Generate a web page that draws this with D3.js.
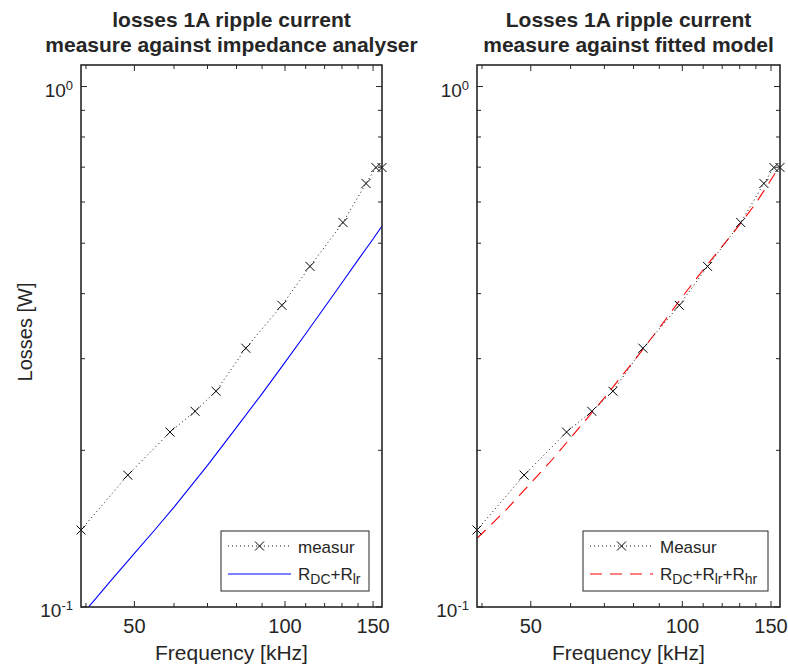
<!DOCTYPE html>
<html><head><meta charset="utf-8">
<script src="https://cdn.jsdelivr.net/npm/d3@7"></script>
<style>
body{margin:0;background:#fff}
svg{display:block}
text{font-family:"Liberation Sans",Arial,Helvetica,sans-serif;fill:#262626}
</style>
</head><body>
<svg id="c" width="788" height="668"></svg>
<script>
// ---- data ----
const freqMeas = [39.1, 48.5, 58.9, 66.1, 72.8, 83.5, 98.6, 112.2, 130.6, 145.2, 152.0, 156.3];
const lossMeas = [0.1406, 0.1792, 0.2168, 0.2377, 0.2598, 0.3142, 0.3799, 0.4513, 0.548, 0.6513, 0.699, 0.699];
const freqModel = [39.1, 42, 45, 50, 55, 60, 70, 80, 90, 100, 110, 120, 130, 140, 150, 156.3];
const lossAnalyser = [0.0962, 0.1042, 0.1127, 0.1268, 0.1409, 0.1556, 0.1871, 0.2213, 0.2570, 0.2951, 0.3350, 0.3767, 0.4198, 0.4645, 0.5093, 0.5395];
const lossFitted = [0.1355, 0.1449, 0.1549, 0.1730, 0.1914, 0.2113, 0.2523, 0.2965, 0.3436, 0.3945, 0.4446, 0.4930, 0.5430, 0.5970, 0.6620, 0.7050];
const xTickVals = [50, 100, 150];
const xMinorVals = [40, 60, 70, 80, 90, 110, 120, 130, 140];
const yTickVals = [0.1, 1];
const yTickExp = ["-1", "0"];
const yMinorVals = [0.2, 0.3, 0.4, 0.5, 0.6, 0.7, 0.8, 0.9];
const yLimits = [0.1, 1.1];

const panels = [
  {x0: 81, x1: 382, title: ["losses 1A ripple current", "measure against impedance analyser"],
   model: lossAnalyser, color: "#0000ff", dash: null,
   legend: [{label: "measur"}, {label: [["R",0],["DC",1],["+R",0],["lr",1]]}],
   leg: {x: 221, y: 531, w: 148, h: 60}, ylabel: true},
  {x0: 477, x1: 780, title: ["Losses 1A ripple current", "measure against fitted model"],
   model: lossFitted, color: "#ff0000", dash: "12,8",
   legend: [{label: "Measur"}, {label: [["R",0],["DC",1],["+R",0],["lr",1],["+R",0],["hr",1]]}],
   leg: {x: 583, y: 531, w: 185, h: 60}, ylabel: false}
];
const yTop = 65, yBot = 607;
const axisColor = "#262626";

const svg = d3.select("#c");

panels.forEach(p => {
  const x = d3.scaleLog().domain([d3.min(freqMeas), d3.max(freqMeas)]).range([p.x0, p.x1]);
  const y = d3.scaleLog().domain(yLimits).range([yBot, yTop]);
  const g = svg.append("g");

  const cid = "clip" + p.x0;
  svg.append("defs").append("clipPath").attr("id", cid)
    .append("rect").attr("x", p.x0).attr("y", yTop).attr("width", p.x1 - p.x0).attr("height", yBot - yTop);

  const plot = g.append("g").attr("clip-path", `url(#${cid})`);

  // model line
  const line = d3.line().x((d, i) => x(freqModel[i])).y(d => y(d));
  plot.append("path").datum(p.model).attr("d", line)
    .attr("fill", "none").attr("stroke", p.color).attr("stroke-width", 1.1)
    .attr("stroke-dasharray", p.dash);

  // measured dotted line
  const mline = d3.line().x((d, i) => x(freqMeas[i])).y(d => y(d));
  plot.append("path").datum(lossMeas).attr("d", mline)
    .attr("fill", "none").attr("stroke", "#111").attr("stroke-width", 1)
    .attr("stroke-dasharray", "1,3");

  // markers
  const ms = 4.5;
  g.selectAll(null).data(lossMeas).enter().append("path")
    .attr("d", (d, i) => {
      const cx = x(freqMeas[i]), cy = y(d);
      return `M${cx-ms},${cy-ms}L${cx+ms},${cy+ms}M${cx-ms},${cy+ms}L${cx+ms},${cy-ms}`;
    })
    .attr("stroke", "#000").attr("stroke-width", 1).attr("fill", "none");

  // ticks (inside, both sides)
  const tk = g.append("g").attr("stroke", axisColor).attr("stroke-width", 1);
  const xt = xTickVals.map(v => ({v, l: 6})).concat(xMinorVals.map(v => ({v, l: 4})));
  xt.forEach(t => {
    const xx = x(t.v);
    tk.append("line").attr("x1", xx).attr("x2", xx).attr("y1", yBot).attr("y2", yBot - t.l);
    tk.append("line").attr("x1", xx).attr("x2", xx).attr("y1", yTop).attr("y2", yTop + t.l);
  });
  const yt = yTickVals.map(v => ({v, l: 6})).concat(yMinorVals.map(v => ({v, l: 4})));
  yt.forEach(t => {
    const yy = y(t.v);
    tk.append("line").attr("x1", p.x0).attr("x2", p.x0 + t.l).attr("y1", yy).attr("y2", yy);
    tk.append("line").attr("x1", p.x1).attr("x2", p.x1 - t.l).attr("y1", yy).attr("y2", yy);
  });

  // box
  g.append("rect").attr("x", p.x0).attr("y", yTop).attr("width", p.x1 - p.x0).attr("height", yBot - yTop)
    .attr("fill", "none").attr("stroke", axisColor).attr("stroke-width", 1.6);

  // x tick labels
  xTickVals.forEach(v => {
    g.append("text").attr("x", x(v)).attr("y", yBot + 26).attr("text-anchor", "middle")
      .attr("font-size", 20).text(v);
  });
  // y tick labels
  yTickVals.forEach((v, i) => {
    const t = g.append("text").attr("x", p.x0 - 8).attr("y", y(v) + 10).attr("text-anchor", "end")
      .attr("font-size", 19);
    t.append("tspan").text("10");
    t.append("tspan").attr("font-size", 13).attr("dy", -7).text(yTickExp[i]);
  });

  // x label
  const cx = (p.x0 + p.x1) / 2;
  g.append("text").attr("x", cx).attr("y", yBot + 53).attr("text-anchor", "middle")
    .attr("font-size", 21).text("Frequency [kHz]");
  if (p.ylabel) {
    g.append("text").attr("transform", `translate(32,${(yTop + yBot) / 2 - 4}) rotate(-90)`)
      .attr("text-anchor", "middle").attr("font-size", 20).text("Losses [W]");
  }
  // title
  p.title.forEach((s, i) => {
    g.append("text").attr("x", cx).attr("y", 27 + i * 25).attr("text-anchor", "middle")
      .attr("font-size", 21).attr("font-weight", "bold").attr("fill", "#000").text(s);
  });

  // legend
  const L = p.leg;
  g.append("rect").attr("x", L.x).attr("y", L.y).attr("width", L.w).attr("height", L.h)
    .attr("fill", "#fff").attr("stroke", axisColor).attr("stroke-width", 1);
  const lx0 = L.x + 7, lx1 = L.x + 70, ltx = L.x + 77;
  const ly1 = L.y + 15, ly2 = L.y + 43;
  g.append("line").attr("x1", lx0).attr("x2", lx1).attr("y1", ly1).attr("y2", ly1)
    .attr("stroke", "#111").attr("stroke-width", 1).attr("stroke-dasharray", "1,3");
  const mcx = (lx0 + lx1) / 2;
  g.append("path").attr("d", `M${mcx-ms},${ly1-ms}L${mcx+ms},${ly1+ms}M${mcx-ms},${ly1+ms}L${mcx+ms},${ly1-ms}`)
    .attr("stroke", "#000").attr("stroke-width", 1);
  g.append("text").attr("x", ltx).attr("y", ly1 + 7).attr("font-size", 17).text(p.legend[0].label);
  g.append("line").attr("x1", lx0).attr("x2", lx1).attr("y1", ly2).attr("y2", ly2)
    .attr("stroke", p.color).attr("stroke-width", 1.1).attr("stroke-dasharray", p.dash);
  const t2 = g.append("text").attr("x", ltx).attr("y", ly2 + 6).attr("font-size", 17);
  let prevSub = 0;
  p.legend[1].label.forEach(([s, sub]) => {
    const ts = t2.append("tspan").text(s);
    if (sub && !prevSub) ts.attr("font-size", 14).attr("dy", 4);
    else if (!sub && prevSub) ts.attr("dy", -4);
    prevSub = sub;
  });
});
</script>
</body></html>
